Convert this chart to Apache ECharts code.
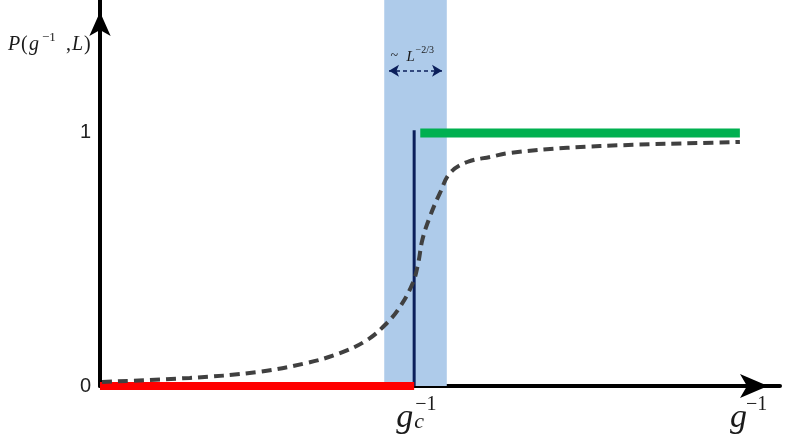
<!DOCTYPE html>
<html>
<head>
<meta charset="utf-8">
<script src="https://cdn.jsdelivr.net/npm/echarts@6/dist/echarts.min.js"></script>
<style>
  html, body { margin: 0; padding: 0; background: #fff; }
  #chart { width: 785px; height: 438px; }
</style>
</head>
<body>
<div id="chart"></div>
<script>
// finite-size crossover curve (x in arbitrary units of g^-1)
const gInv = [0.03, 1.32, 2.31, 3.04, 3.53, 3.93, 4.22, 4.41, 4.60, 4.68, 4.74, 4.85, 5.00, 5.15, 5.40, 5.74, 6.03, 6.87, 7.84, 8.82, 9.41];
const prob = [0.016, 0.032, 0.055, 0.091, 0.130, 0.182, 0.249, 0.312, 0.407, 0.486, 0.577, 0.668, 0.763, 0.842, 0.885, 0.905, 0.921, 0.941, 0.953, 0.960, 0.964];

const gc = 4.62;
const navyTop = 1.01;
const bandRange = [4.18, 5.10];     // ~ L^-2/3 window
const arrowRange = [4.25, 5.03];
const arrowY = 1.245;
const redRange = [0, 4.62];        // P = 0 below g_c
const greenRange = [4.71, 9.41];   // P = 1 above g_c
const yTicks = [0, 1];
const xMax = 10;
const yMax = 1.525;

const SERIF = '"Liberation Serif", "DejaVu Serif", serif';
const INK = '#1a1a1a';
const NAVY = '#0b1f5b';

const chart = echarts.init(document.getElementById('chart'), null, { renderer: 'canvas' });

chart.setOption({
  animation: false,
  grid: { left: 100, right: 5, top: 0, bottom: 52 },
  xAxis: {
    type: 'value',
    min: 0,
    max: xMax,
    axisLine: {
      lineStyle: { color: '#000', width: 4 },
      symbol: ['none', 'arrow'],
      symbolSize: [18, 28],
      symbolOffset: [0, -12],
    },
    axisTick: { show: false },
    axisLabel: { show: false },
    splitLine: { show: false },
  },
  yAxis: {
    type: 'value',
    min: 0,
    max: yMax,
    interval: 1,
    axisLine: {
      show: true,
      lineStyle: { color: '#000', width: 4 },
      symbol: ['none', 'arrow'],
      symbolSize: [16, 24],
      symbolOffset: [0, -12],
    },
    axisTick: { show: false },
    axisLabel: {
      margin: 9,
      color: '#222',
      fontSize: 20,
      fontFamily: '"Liberation Sans", Arial, sans-serif',
      formatter: (v) => (yTicks.includes(v) ? String(v) : ''),
    },
    splitLine: { show: false },
  },
  series: [
    {
      name: 'gc',
      type: 'line',
      data: [[gc, 0], [gc, navyTop]],
      showSymbol: false,
      lineStyle: { color: NAVY, width: 3 },
      z: 3,
      markArea: {
        silent: true,
        itemStyle: { color: '#aecbea', opacity: 1 },
        data: [[{ xAxis: bandRange[0] }, { xAxis: bandRange[1] }]],
      },
      markLine: {
        silent: true,
        symbol: ['arrow', 'arrow'],
        symbolSize: [9, 10],
        label: { show: false },
        lineStyle: { color: NAVY, width: 1.5, type: [4, 3] },
        data: [[{ coord: [arrowRange[0], arrowY] }, { coord: [arrowRange[1], arrowY] }]],
      },
    },
    {
      name: 'below',
      type: 'line',
      data: redRange.map((x) => [x, 0]),
      showSymbol: false,
      lineStyle: { color: '#ff0000', width: 8, cap: 'butt' },
      z: 4,
    },
    {
      name: 'above',
      type: 'line',
      data: greenRange.map((x) => [x, 1]),
      showSymbol: false,
      lineStyle: { color: '#00b050', width: 9, cap: 'butt' },
      z: 4,
    },
    {
      name: 'P',
      type: 'line',
      data: gInv.map((x, i) => [x, prob[i]]),
      smooth: 0.4,
      showSymbol: false,
      lineStyle: { color: '#404040', width: 4, type: [10, 6] },
      z: 5,
    },
  ],
});

// text annotations anchored to data coordinates
const px = (x, y) => chart.convertToPixel({ gridIndex: 0 }, [x, y]);
const c = px(gc, 0);
const e = px(xMax, 0);
const a = px((bandRange[0] + bandRange[1]) / 2, arrowY);
const p = px(0, 1.35);

const txt = (x, y, text, size, italic, align) => ({
  type: 'text',
  x, y,
  z: 100,
  style: {
    text,
    fill: INK,
    font: (italic ? 'italic ' : '') + size + 'px ' + SERIF,
    textAlign: align || 'left',
    textVerticalAlign: 'middle',
  },
});

chart.setOption({
  graphic: [
    // P(g^-1, L)
    txt(p[0] - 92, p[1], 'P', 20, true),
    txt(p[0] - 79, p[1], '(', 20, false),
    txt(p[0] - 71, p[1], 'g', 20, true),
    txt(p[0] - 58, p[1] - 7, '\u22121', 13, false),
    txt(p[0] - 34, p[1], ',', 20, false),
    txt(p[0] - 28, p[1], 'L', 20, true),
    txt(p[0] - 16, p[1], ')', 20, false),
    // g_c^-1
    txt(c[0] - 1, c[1] + 32, 'g', 34, true, 'right'),
    txt(c[0], c[1] + 36, 'c', 22, true),
    txt(c[0] + 1, c[1] + 19, '\u22121', 20, false),
    // g^-1
    txt(e[0] - 33, e[1] + 32, 'g', 34, true, 'right'),
    txt(e[0] - 34, e[1] + 19, '\u22121', 20, false),
    // ~ L^-2/3
    txt(a[0] - 25, a[1] - 15, '~', 14, false),
    txt(a[0] - 9, a[1] - 14, 'L', 15, true),
    txt(a[0] + 0, a[1] - 20, '\u22122/3', 10, false),
  ],
});
</script>
</body>
</html>
